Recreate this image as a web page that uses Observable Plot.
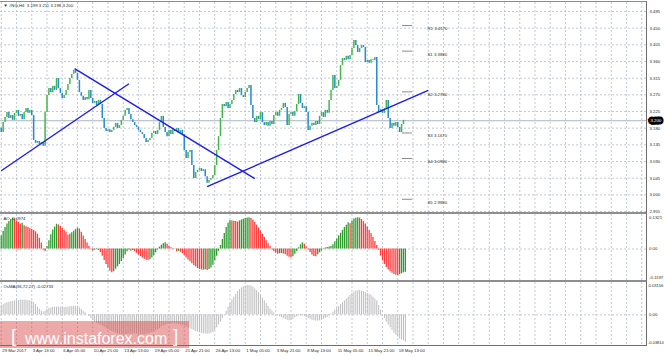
<!DOCTYPE html>
<html><head><meta charset="utf-8">
<script src="https://cdn.jsdelivr.net/npm/d3@7"></script>
<script src="https://cdn.jsdelivr.net/npm/@observablehq/plot@0.6"></script>
<style>
html,body{margin:0;padding:0;background:#fff;}
#wrap{position:relative;width:665px;height:356px;overflow:hidden;font-family:"Liberation Sans",Arial,sans-serif;}
#wrap svg{position:absolute;left:0;overflow:visible;}
.ln{position:absolute;}
#wm{position:absolute;left:0;top:321px;width:189px;height:27px;background:rgba(214,62,62,0.45);color:#fff;}
#wm span{position:absolute;line-height:16px;white-space:nowrap;}
</style></head><body><div id="wrap"></div>
<script>
// ---------- data ----------
const header = "\u25BC #NG,H4  3.199 3.211 3.198 3.200";
const firstOpen = 3.180;
const closes = [
3.168,3.195,3.209,3.222,3.206,3.214,3.201,3.220,3.228,3.212,3.217,3.203,3.222,3.233,3.220,3.228,
3.214,3.147,3.139,3.144,3.136,3.141,3.131,3.222,3.268,3.287,3.276,3.293,3.282,3.314,3.287,3.274,
3.260,3.268,3.282,3.298,3.314,3.325,3.336,3.328,3.309,3.276,3.266,3.255,3.263,3.257,3.282,3.260,
3.247,3.252,3.241,3.255,3.244,3.206,3.179,3.171,3.176,3.168,3.174,3.182,3.193,3.179,3.187,3.201,
3.212,3.228,3.233,3.217,3.203,3.195,3.187,3.182,3.174,3.168,3.163,3.152,3.141,3.147,3.152,3.166,
3.171,3.163,3.174,3.195,3.212,3.182,3.168,3.157,3.174,3.163,3.176,3.171,3.179,3.166,3.174,3.163,
3.120,3.098,3.114,3.120,3.079,3.044,3.060,3.066,3.071,3.063,3.068,3.049,3.031,3.039,3.044,3.052,
3.079,3.120,3.157,3.206,3.244,3.238,3.249,3.233,3.244,3.255,3.271,3.282,3.276,3.287,3.268,3.263,
3.276,3.287,3.295,3.241,3.206,3.195,3.212,3.203,3.222,3.195,3.187,3.195,3.185,3.198,3.190,3.214,
3.222,3.212,3.228,3.233,3.247,3.236,3.187,3.217,3.222,3.212,3.225,3.244,3.271,3.247,3.233,3.238,
3.222,3.174,3.185,3.193,3.187,3.198,3.190,3.212,3.222,3.209,3.228,3.220,3.255,3.282,3.322,3.287,
3.293,3.309,3.349,3.368,3.363,3.374,3.365,3.376,3.395,3.417,3.403,3.384,3.395,3.403,3.398,3.357,
3.363,3.355,3.365,3.363,3.371,3.241,3.222,3.230,3.220,3.233,3.255,3.206,3.179,3.193,3.185,3.195,
3.182,3.168,3.190,3.201,3.200];
const ao = [
0.055,0.075,0.090,0.105,0.115,0.124,0.129,0.126,0.118,0.112,0.105,0.108,0.098,0.093,0.090,0.086,
0.082,0.078,0.072,0.062,0.045,0.025,-0.005,-0.010,0.010,0.035,0.060,0.080,0.092,0.104,0.101,0.094,
0.086,0.078,0.070,0.058,0.062,0.068,0.075,0.082,0.088,0.084,0.070,0.055,0.040,0.025,0.010,-0.003,
-0.008,-0.005,-0.002,-0.006,-0.015,-0.030,-0.048,-0.065,-0.080,-0.093,-0.100,-0.095,-0.085,-0.075,-0.065,-0.052,
-0.040,-0.025,-0.012,-0.004,-0.008,-0.006,-0.012,-0.018,-0.025,-0.032,-0.038,-0.043,-0.047,-0.048,-0.045,-0.038,
-0.028,-0.016,-0.004,0.008,0.016,0.022,0.026,0.020,0.012,0.005,-0.002,-0.001,-0.012,-0.010,-0.014,-0.020,
-0.028,-0.038,-0.046,-0.054,-0.062,-0.070,-0.076,-0.082,-0.086,-0.088,-0.089,-0.087,-0.090,-0.086,-0.080,-0.068,
-0.050,-0.030,-0.010,0.015,0.040,0.065,0.090,0.108,0.120,0.118,0.116,0.115,0.113,0.118,0.122,0.125,
0.128,0.130,0.131,0.128,0.122,0.112,0.100,0.088,0.075,0.062,0.048,0.035,0.022,0.010,-0.004,-0.012,
-0.018,-0.022,-0.020,-0.019,-0.021,-0.024,-0.030,-0.035,-0.038,-0.032,-0.022,-0.010,0.005,0.018,0.026,0.020,
0.008,-0.004,-0.015,-0.025,-0.031,-0.032,-0.024,-0.016,-0.008,-0.002,0.004,0.006,0.008,0.010,0.018,0.030,
0.042,0.055,0.066,0.078,0.090,0.100,0.110,0.106,0.118,0.126,0.129,0.131,0.130,0.124,0.115,0.105,
0.092,0.078,0.064,0.048,0.032,0.015,-0.005,-0.030,-0.050,-0.065,-0.078,-0.088,-0.096,-0.102,-0.107,-0.110,
-0.112,-0.108,-0.104,-0.100,-0.0974];
const osma = [
0.010,0.011,0.012,0.013,0.0135,0.014,0.0145,0.015,0.0152,0.0155,0.0157,0.0158,0.0158,0.0156,0.0153,0.0150,
0.0146,0.013,0.011,0.008,0.006,0.004,0.003,0.004,0.006,0.007,0.0075,0.008,0.0082,0.0083,0.0082,0.0080,
0.0078,0.0078,0.0080,0.0083,0.0086,0.0088,0.0090,0.0090,0.0088,0.0075,0.006,0.004,0.002,0.000,
-0.002,-0.004,-0.006,-0.008,-0.009,-0.010,-0.011,-0.012,-0.0135,-0.015,-0.016,-0.017,
-0.018,-0.019,-0.020,-0.0205,-0.021,-0.0213,-0.0215,-0.0215,-0.0213,-0.021,-0.0208,-0.0207,-0.0207,-0.0208,-0.021,-0.0212,
-0.0213,-0.0213,-0.021,-0.0205,-0.020,
-0.019,-0.018,-0.017,-0.016,-0.015,-0.013,-0.012,-0.011,-0.0105,-0.010,-0.010,-0.0098,-0.0098,-0.010,
-0.0105,-0.011,-0.0115,-0.012,-0.013,-0.014,-0.015,
-0.016,-0.017,-0.018,-0.0188,-0.0195,-0.020,-0.0205,-0.0207,-0.021,-0.0207,-0.020,-0.019,
-0.017,-0.014,-0.011,-0.008,-0.004,0.000,
0.004,0.008,0.012,0.016,0.019,0.022,0.025,0.027,0.029,0.030,0.031,0.0315,0.0316,
0.031,0.030,0.028,0.026,0.024,0.021,0.018,0.015,0.012,0.009,0.006,0.004,0.002,0.000,-0.001,
-0.002,-0.003,-0.004,-0.005,-0.006,-0.0065,-0.006,-0.005,
-0.003,-0.002,-0.001,-0.001,-0.001,-0.002,-0.003,-0.004,
-0.005,-0.006,-0.0065,-0.0068,-0.0068,-0.0065,-0.006,-0.005,-0.004,-0.003,-0.001,0.001,
0.003,0.005,0.007,0.009,0.011,0.013,0.015,0.017,0.019,
0.021,0.023,0.0245,0.0255,0.026,0.026,0.0255,0.025,
0.024,0.023,0.022,0.021,0.019,0.017,0.015,
0.010,0.005,0.000,
-0.004,-0.008,-0.011,-0.014,-0.017,-0.020,-0.022,-0.024,-0.026,-0.027,-0.028,-0.0295];
const priceTicks = [3.495,3.450,3.405,3.360,3.315,3.270,3.225,3.180,3.135,3.090,3.045,3.000,2.955];
const lastPrice = 3.200;
const levels = [
  {name:"R1", value:3.4570},{name:"S1", value:3.3880},{name:"S2", value:3.2780},
  {name:"S3", value:3.1670},{name:"S4", value:3.0980},{name:"S5", value:2.9880}];
const trendLines = [
  {i1:0, p1:3.065, i2:67, p2:3.300},
  {i1:38.5, p1:3.341, i2:133, p2:3.044},
  {i1:108, p1:3.022, i2:224, p2:3.282}];
const timeLabels = ["29 Mar 2017","3 Apr 13:00","6 Apr 05:00","10 Apr 21:00","13 Apr 13:00","19 Apr 05:00",
  "21 Apr 21:00","26 Apr 13:00","1 May 05:00","3 May 21:00","8 May 13:00","11 May 05:00","15 May 21:00","18 May 13:00"];
const timeBars = [0,16,32,48,64,80,96,112,128,144,160,176,192,208];
const aoName = "AO -0.0974";
const aoLabels = [{v:0.1321,t:"0.1321"},{v:0,t:"0.00"},{v:-0.1197,t:"-0.1197"}];
const osmaName = "OsMA(36,72,27) -0.02733";
const osmaLabels = ["0.03156","0.00","-0.03814"];

// ---------- derived tables ----------
const bars = closes.map((c,i)=>({i, open: i===0 ? firstOpen : closes[i-1], close:c}));
const aoData = ao.map((v,i)=>({i, v, up: i===0 || v>ao[i-1]}));
const osmaData = osma.map((v,i)=>({i, v}));
const gridBars = d3.range(0, 337, 8);

const X = {domain:[-0.393, 338.5], axis:null};
const GRID = {stroke:"#b3bccb", strokeDasharray:"2,2", strokeWidth:0.8};
const FONT = "Liberation Sans, Arial, sans-serif";
const FS = 4.3;
const TXT = "#2a2a2a";
const wrap = document.getElementById("wrap");

function place(svg, top){ svg.style.top = top+"px"; wrap.appendChild(svg); }

// ---------- main price panel ----------
const main = Plot.plot({
  width:665, height:213, marginLeft:0, marginRight:19, marginTop:2, marginBottom:1,
  x:X, y:{domain:[2.9523, 3.5193], axis:null},
  style:{fontFamily:FONT, background:"transparent"},
  marks:[
    Plot.ruleY(priceTicks, GRID),
    Plot.ruleX(gridBars, GRID),
    Plot.ruleY([lastPrice], {stroke:"#a9b6c6", strokeWidth:1}),
    Plot.ruleX(bars, {x:"i", y1:"open", y2:"close", strokeWidth:1.5,
      stroke:d=>d.close>=d.open ? "#43b649" : "#238bd0"}),
    Plot.link(trendLines, {x1:"i1", y1:"p1", x2:"i2", y2:"p2", stroke:"#1c1cf0", strokeWidth:1.4}),
    Plot.ruleY(levels, {y:"value", x1:210.5, x2:215.8, stroke:"#8a8a8a", strokeWidth:1}),
    Plot.text(levels, {x:223.6, y:"value", text:d=>`${d.name} ${d.value.toFixed(4)}`, textAnchor:"start",
      dy:3, fontSize:FS, fill:TXT}),
    Plot.text(priceTicks, {y:d=>d, text:d=>d.toFixed(3), frameAnchor:"right", textAnchor:"start",
      dx:3, fontSize:FS, fill:TXT}),
    Plot.text([lastPrice], {y:d=>d, text:d=>d.toFixed(3), frameAnchor:"right", textAnchor:"start",
      dx:4, fontSize:FS, fill:"#fff", stroke:"#000", strokeWidth:5, strokeLinejoin:"miter"}),
    Plot.text([header], {frameAnchor:"top-left", dx:3, dy:1.2, textAnchor:"start", lineAnchor:"top",
      fontSize:FS, fill:TXT})
  ]
});
place(main, 0);

// ---------- AO panel ----------
const aoPlot = Plot.plot({
  width:665, height:68, marginLeft:0, marginRight:19, marginTop:1, marginBottom:1,
  x:X, y:{domain:[-0.1322, 0.1448], axis:null},
  style:{fontFamily:FONT, background:"transparent"},
  marks:[
    Plot.ruleX(gridBars, GRID),
    Plot.ruleY([0], GRID),
    Plot.ruleX(aoData, {x:"i", y1:0, y2:"v", strokeWidth:1.3,
      stroke:d=>d.up ? "#2e9a2e" : "#ff3c3c"}),
    Plot.text(aoLabels, {y:"v", text:"t", frameAnchor:"right", textAnchor:"start", dx:2.5, fontSize:FS, fill:TXT}),
    Plot.text([aoName], {frameAnchor:"top-left", dx:3, dy:2.5, textAnchor:"start", lineAnchor:"top",
      fontSize:FS, fill:TXT})
  ]
});
place(aoPlot, 213);

// ---------- OsMA panel ----------
const osPlot = Plot.plot({
  width:665, height:75, marginLeft:0, marginRight:19, marginTop:1, marginBottom:11,
  x:X, y:{domain:[-0.03306, 0.03478], axis:null},
  style:{fontFamily:FONT, background:"transparent"},
  marks:[
    Plot.ruleX(gridBars, GRID),
    Plot.ruleY([0], GRID),
    Plot.ruleX(osmaData, {x:"i", y1:0, y2:"v", strokeWidth:1, stroke:"#bdbdbd"}),
    Plot.text([osmaLabels[0]], {frameAnchor:"top-right", textAnchor:"start", lineAnchor:"middle", dx:2, dy:3,
      fontSize:4.1, fill:TXT}),
    Plot.text([osmaLabels[1]], {y:0, frameAnchor:"right", textAnchor:"start", dx:2.5, fontSize:FS, fill:TXT}),
    Plot.text([osmaLabels[2]], {frameAnchor:"bottom-right", textAnchor:"start", lineAnchor:"middle", dx:1.5, dy:-3,
      fontSize:4.0, fill:TXT}),
    Plot.text([osmaName], {frameAnchor:"top-left", dx:3, dy:2.5, textAnchor:"start", lineAnchor:"top",
      fontSize:FS, fill:TXT}),
    Plot.text(timeLabels, {x:(d,i)=>timeBars[i], frameAnchor:"bottom", textAnchor:"start", lineAnchor:"middle",
      dx:1, dy:5.5, fontSize:FS, fill:TXT})
  ]
});
place(osPlot, 281);

// ---------- frame lines & watermark ----------
function line(l,t,w,h,c){ const d=document.createElement("div"); d.className="ln";
  Object.assign(d.style,{left:l+"px",top:t+"px",width:w+"px",height:h+"px",background:c}); wrap.appendChild(d); }
line(0,1,647,1,"#8c8c8c");
line(0,212,647,2,"#8e8e8e");
line(0,280,647,2,"#8e8e8e");
line(0,345,647,1,"#6e6e6e");
line(646,1,1,345,"#6e6e6e");

const wm = document.createElement("div"); wm.id="wm";
wm.innerHTML = '<span style="left:11px;top:7px;font-size:19px;font-weight:300">[</span>'+
  '<span style="left:25px;top:10px;font-size:16px">www.instaforex.com</span>'+
  '<span style="left:173px;top:7px;font-size:19px;font-weight:300">]</span>';
wrap.appendChild(wm);
</script></body></html>
